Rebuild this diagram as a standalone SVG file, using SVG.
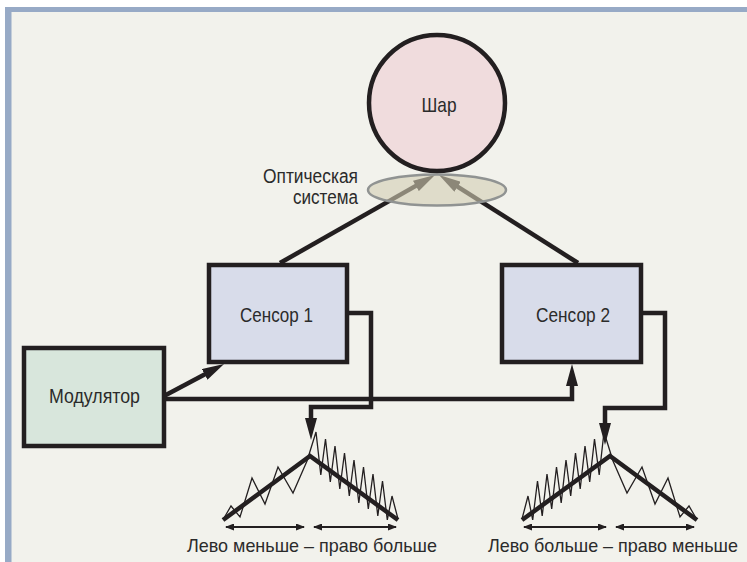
<svg xmlns="http://www.w3.org/2000/svg" xmlns:xlink="http://www.w3.org/1999/xlink" width="747" height="562" viewBox="0 0 747 562">
<style>
.box{stroke:#231f20;stroke-width:4.5}
.con{fill:none;stroke:#231f20;stroke-width:4.5;stroke-linejoin:miter}
.lbl{font-family:"Liberation Sans",Arial,sans-serif;fill:#2b2b2b}
.thick{fill:none;stroke:#231f20;stroke-width:4.5;stroke-linejoin:miter}
.thin{fill:none;stroke:#231f20;stroke-width:1.3;stroke-linejoin:miter}
.dim{fill:none;stroke:#231f20;stroke-width:2}
</style>
<defs>
<marker id="ah" markerUnits="userSpaceOnUse" viewBox="0 0 22 12" markerWidth="22" markerHeight="12" refX="2" refY="6" orient="auto">
<path d="M0,0 L22,6 L0,12 z" fill="#231f20"/>
</marker>
<marker id="da" markerUnits="userSpaceOnUse" viewBox="0 0 9 7" markerWidth="9" markerHeight="7" refX="8" refY="3.5" orient="auto-start-reverse">
<path d="M0,0 L9,3.5 L0,7 z" fill="#231f20"/>
</marker>
<g id="wave">
<path class="thin" d="M224,518 L231,506 L240,517 L252,478 L265,504 L278,467 L293,493 L307,461 L316,432 L320.8,475 L325.5,439 L330.3,482 L335,446 L339.8,489 L344.5,453 L349.3,496 L354,460 L358.8,503 L363.5,467 L368.3,509 L373,474 L377.8,516 L382.5,481 L387.3,520 L392,496 L398,519"/>
<path class="thick" d="M223,520 L310,456 L398,520"/>
<path class="dim" d="M226,527 H304" marker-start="url(#da)" marker-end="url(#da)"/>
<path class="dim" d="M314,527 H396" marker-start="url(#da)" marker-end="url(#da)"/>
</g>
</defs>
<rect x="0" y="0" width="747" height="562" fill="#ffffff"/>
<rect x="5" y="7" width="742" height="555" fill="#97aac6"/>
<rect x="11.5" y="12" width="736" height="550" fill="#f2f2ec"/>

<g id="connectors">
<path class="con" d="M280,263 L417.6,184.9" marker-end="url(#ah)"/>
<path class="con" d="M578,263 L455.9,185.7" marker-end="url(#ah)"/>
<path class="con" d="M164,396 L206.4,373.4" marker-end="url(#ah)"/>
<path class="con" d="M164,399 H572 V384" marker-end="url(#ah)"/>
<path class="con" d="M347,313 H371 V407 H311 V420" marker-end="url(#ah)"/>
<path class="con" d="M641,313 H665 V408 H605 V425" marker-end="url(#ah)"/>
</g>

<g id="optics">
<ellipse cx="437" cy="190" rx="69" ry="15.5" fill="#d2cdb4" fill-opacity="0.6" stroke="#909392" stroke-width="2.5"/>
<text class="lbl" x="358" y="183" font-size="19.5" text-anchor="end" textLength="95" lengthAdjust="spacingAndGlyphs">Оптическая</text>
<text class="lbl" x="358" y="204" font-size="19.5" text-anchor="end" textLength="65" lengthAdjust="spacingAndGlyphs">система</text>
</g>

<g id="ball">
<circle cx="437" cy="103" r="68" fill="#f0dcdd" stroke="#231f20" stroke-width="4.5"/>
<text class="lbl" x="439" y="111.5" font-size="21" text-anchor="middle" textLength="35" lengthAdjust="spacingAndGlyphs">Шар</text>
</g>

<g id="sensor1">
<rect class="box" x="209" y="265" width="138" height="97" fill="#d8dcea"/>
<text class="lbl" x="276.5" y="321.7" font-size="21" text-anchor="middle" textLength="73" lengthAdjust="spacingAndGlyphs">Сенсор 1</text>
</g>

<g id="sensor2">
<rect class="box" x="502" y="265" width="139" height="97" fill="#d8dcea"/>
<text class="lbl" x="573" y="321.7" font-size="21" text-anchor="middle" textLength="74" lengthAdjust="spacingAndGlyphs">Сенсор 2</text>
</g>

<g id="modulator">
<rect class="box" x="24" y="348" width="140" height="98" fill="#d8e6dc"/>
<text class="lbl" x="94.5" y="403.3" font-size="21" text-anchor="middle" textLength="91" lengthAdjust="spacingAndGlyphs">Модулятор</text>
</g>

<g id="signal1">
<use xlink:href="#wave"/>
<text class="lbl" x="312" y="551.7" font-size="18.5" text-anchor="middle" textLength="250" lengthAdjust="spacingAndGlyphs">Лево меньше – право больше</text>
</g>

<g id="signal2">
<use xlink:href="#wave" transform="translate(920,0) scale(-1,1)"/>
<text class="lbl" x="613" y="551.7" font-size="18.5" text-anchor="middle" textLength="250" lengthAdjust="spacingAndGlyphs">Лево больше – право меньше</text>
</g>
</svg>
